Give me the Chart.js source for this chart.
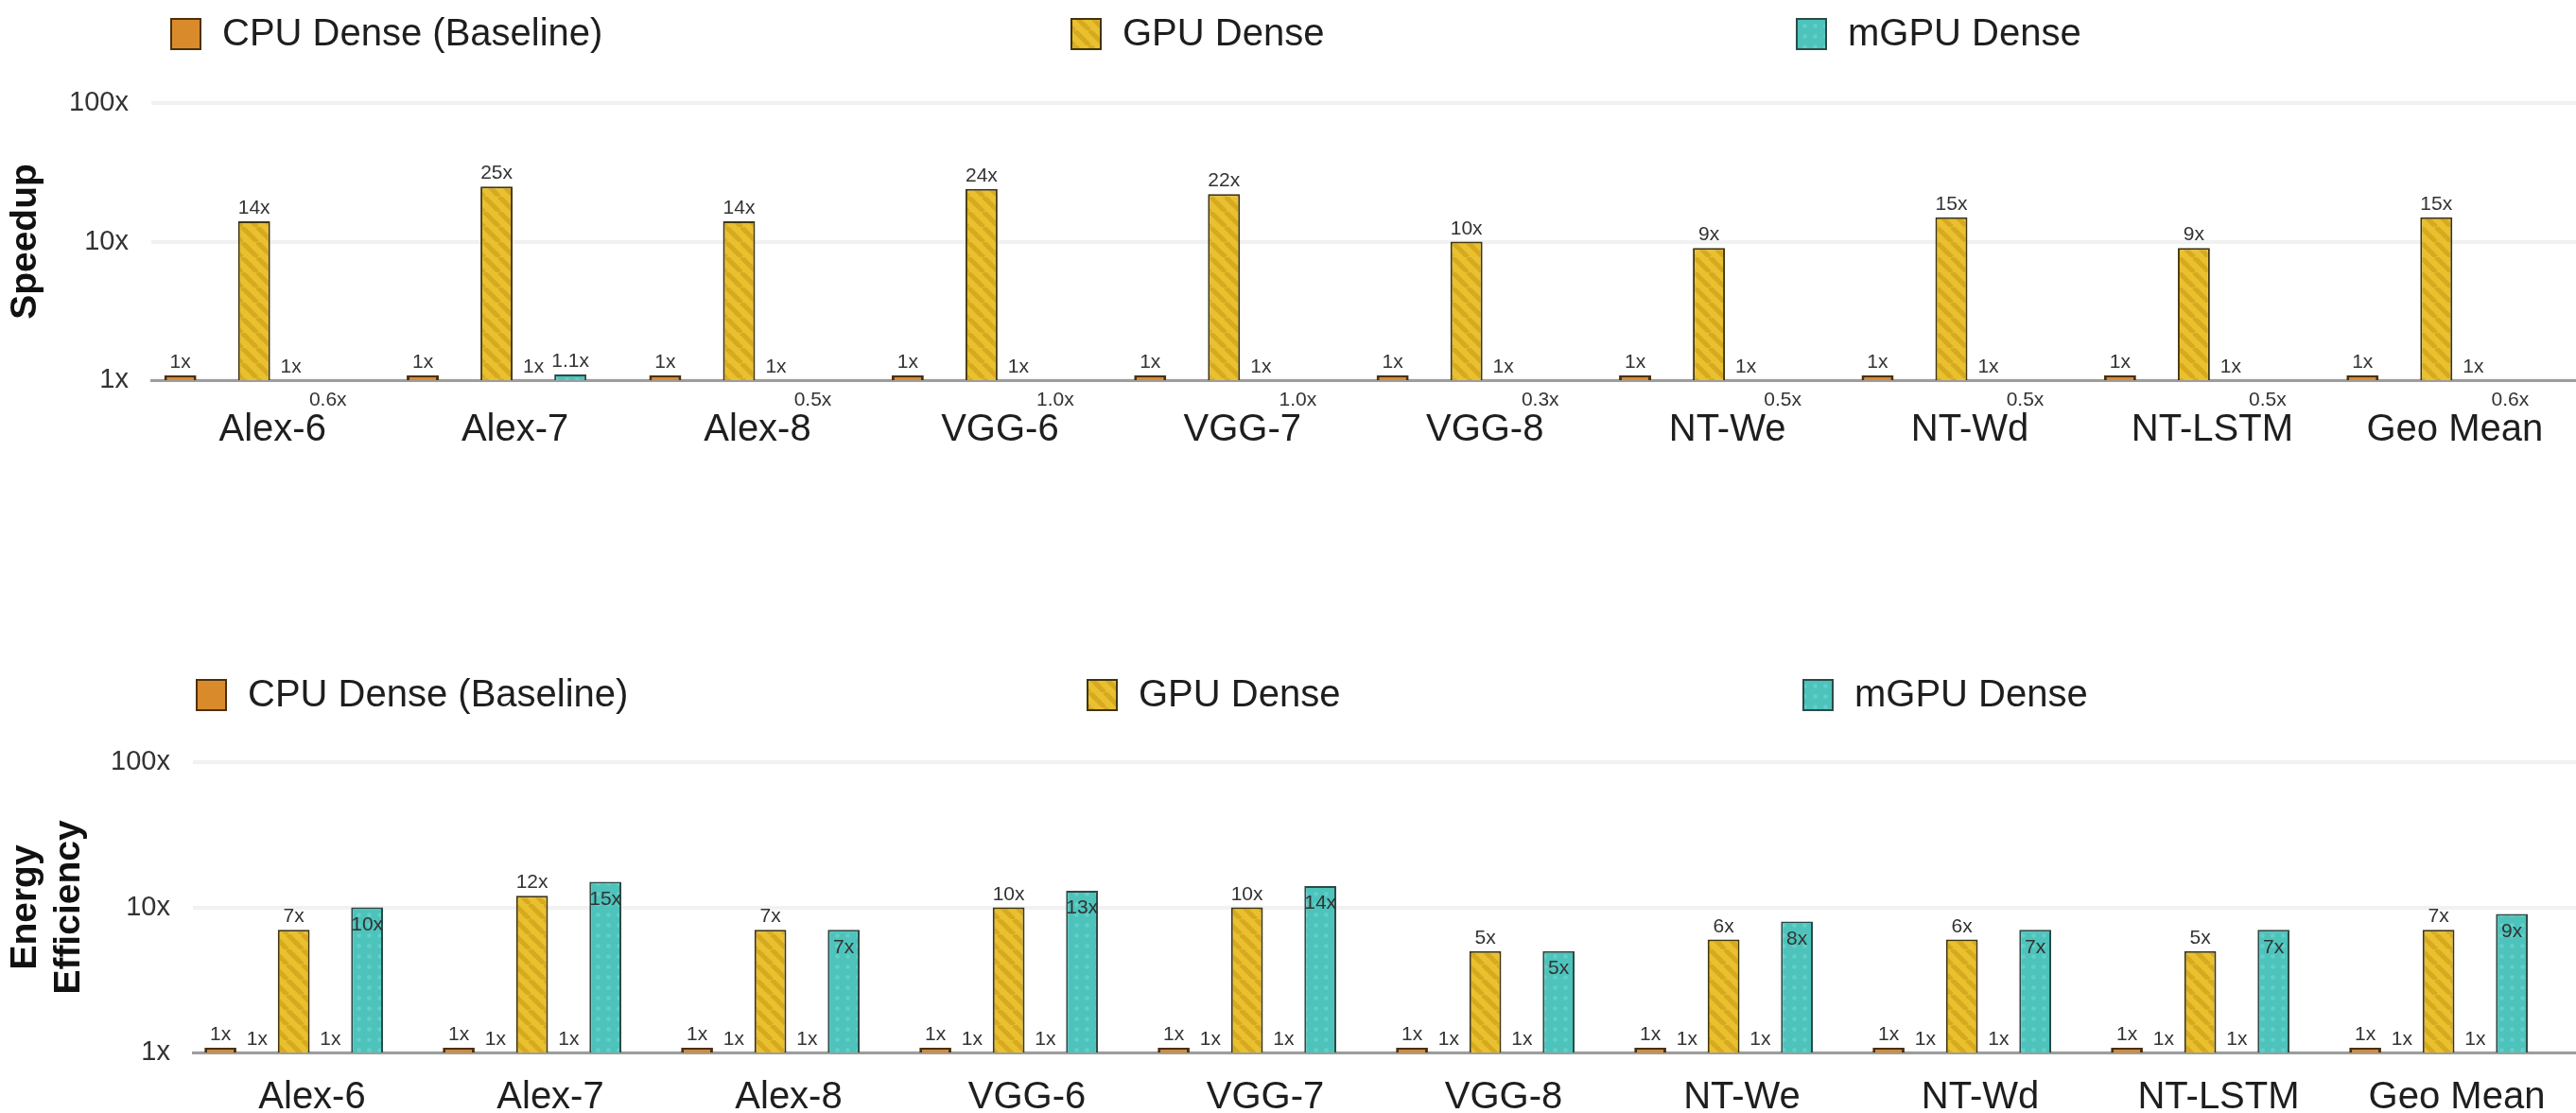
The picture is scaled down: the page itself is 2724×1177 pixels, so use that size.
<!DOCTYPE html>
<html>
<head>
<meta charset="utf-8">
<title>Speedup and Energy Efficiency</title>
<script src="https://cdn.jsdelivr.net/npm/chart.js@4.4.1/dist/chart.umd.min.js"></script>
<style>
  html, body { margin: 0; padding: 0; background: #ffffff; overflow: hidden; }
  canvas { display: block; }
</style>
</head>
<body>
<canvas id="speedup" width="2724" height="588"></canvas>
<canvas id="energy" width="2724" height="589"></canvas>
<script>
// ---- data ----
const categories = ['Alex-6', 'Alex-7', 'Alex-8', 'VGG-6', 'VGG-7', 'VGG-8', 'NT-We', 'NT-Wd', 'NT-LSTM', 'Geo Mean'];
const seriesNames = ['CPU Dense (Baseline)', 'GPU Dense', 'mGPU Dense'];
const yTickValues = [1, 10, 100];

// speedup over the CPU baseline
const speedupCPU   = [1, 1, 1, 1, 1, 1, 1, 1, 1, 1];
const speedupGPU   = [14, 25, 14, 24, 22, 10, 9, 15, 9, 15];
const speedupUnit  = [1, 1, 1, 1, 1, 1, 1, 1, 1, 1];
const speedupMGPU  = [0.6, 1.1, 0.5, 1.0, 1.0, 0.3, 0.5, 0.5, 0.5, 0.6];

// energy efficiency over the CPU baseline
const energyCPU    = [1, 1, 1, 1, 1, 1, 1, 1, 1, 1];
const energyUnitA  = [1, 1, 1, 1, 1, 1, 1, 1, 1, 1];
const energyGPU    = [7, 12, 7, 10, 10, 5, 6, 6, 5, 7];
const energyUnitB  = [1, 1, 1, 1, 1, 1, 1, 1, 1, 1];
const energyMGPU   = [10, 15, 7, 13, 14, 5, 8, 7, 7, 9];

const emptyRow = [null, null, null, null, null, null, null, null, null, null];

// ---- fills ----
const FONT = '"Liberation Sans", Arial, Helvetica, sans-serif';

function stripeFill() {
  const n = 16;
  const c = document.createElement('canvas');
  c.width = c.height = n;
  const g = c.getContext('2d');
  g.fillStyle = '#e9c02e';
  g.fillRect(0, 0, n, n);
  g.strokeStyle = '#d7a920';
  g.lineWidth = 5;
  for (const o of [-n, 0, n]) {
    g.beginPath();
    g.moveTo(o, 0);
    g.lineTo(o + n, n);
    g.stroke();
  }
  return g.createPattern(c, 'repeat');
}

function dotFill() {
  const c = document.createElement('canvas');
  c.width = c.height = 11;
  const g = c.getContext('2d');
  g.fillStyle = '#4dc3bb';
  g.fillRect(0, 0, 11, 11);
  g.fillStyle = '#62d0c8';
  g.beginPath();
  g.arc(5.5, 5.5, 2.3, 0, Math.PI * 2);
  g.fill();
  return g.createPattern(c, 'repeat');
}

const cpuStyle  = { backgroundColor: '#d98b2c', borderColor: '#4d300d', borderWidth: 3, minBarLength: 5 };
const gpuStyle  = { backgroundColor: stripeFill(), borderColor: '#3f3510', borderWidth: 2 };
const mgpuStyle = { backgroundColor: dotFill(), borderColor: '#2c4a47', borderWidth: 2 };
const blankStyle = { backgroundColor: 'rgba(0,0,0,0)', borderColor: 'rgba(0,0,0,0)', borderWidth: 0 };

const whole = v => v + 'x';
const oneDecimal = v => v.toFixed(1) + 'x';

// ---- plugins ----
// value labels above / inside / under the bars
const barLabels = {
  id: 'barLabels',
  afterDatasetsDraw(chart) {
    const { ctx, chartArea } = chart;
    ctx.save();
    ctx.font = '21px ' + FONT;
    ctx.fillStyle = '#333333';
    ctx.textAlign = 'center';
    chart.data.datasets.forEach((ds, i) => {
      if (!ds.valueText) return;
      const meta = chart.getDatasetMeta(i);
      meta.data.forEach((bar, j) => {
        const v = ds.data[j];
        if (v == null) return;
        const text = ds.valueText(v);
        let place = ds.labelPlace;
        if (place === 'auto') place = v > 1 ? 'above' : 'below';
        if (place === 'above') {
          ctx.textBaseline = 'alphabetic';
          ctx.fillText(text, bar.x, Math.min(bar.y, bar.base) - 8);
        } else if (place === 'inside') {
          ctx.textBaseline = 'top';
          ctx.fillText(text, bar.x, bar.y + 8);
        } else {
          ctx.textBaseline = 'middle';
          ctx.fillText(text, bar.x, chartArea.bottom + 21);
        }
      });
    });
    ctx.restore();
  }
};

// legend row with swatches
const swatchLegend = {
  id: 'swatchLegend',
  afterDraw(chart, args, opts) {
    const ctx = chart.ctx;
    ctx.save();
    ctx.font = '40px ' + FONT;
    ctx.textBaseline = 'middle';
    ctx.textAlign = 'left';
    opts.items.forEach(it => {
      const ds = chart.data.datasets[it.dataset];
      ctx.fillStyle = ds.backgroundColor;
      ctx.fillRect(it.x, opts.y - 16, 31, 32);
      ctx.strokeStyle = ds.borderColor;
      ctx.lineWidth = 2;
      ctx.strokeRect(it.x, opts.y - 16, 31, 32);
      ctx.fillStyle = '#1e1e1e';
      ctx.fillText(ds.label, it.x + 54, opts.y + 1);
    });
    ctx.restore();
  }
};

function buildOptions(cfg) {
  return {
    responsive: false,
    animation: false,
    layout: { padding: { top: cfg.padTop, bottom: cfg.padBottom, left: 0, right: 0 } },
    datasets: { bar: { categoryPercentage: cfg.catPct, barPercentage: 0.87, clip: 0 } },
    plugins: {
      legend: { display: false },
      tooltip: { enabled: false },
      swatchLegend: { items: cfg.legend, y: cfg.legendY }
    },
    scales: {
      x: {
        type: 'category',
        offset: true,
        grid: { display: false },
        border: { display: true, color: '#9d9d9d', width: 3 },
        ticks: { color: '#1e1e1e', font: { family: FONT, size: 40 }, padding: cfg.xPad, maxRotation: 0, autoSkip: false },
        afterFit: s => { s.height = cfg.xHeight; }
      },
      y: {
        type: 'logarithmic',
        min: 1,
        max: 100,
        afterBuildTicks: s => { s.ticks = yTickValues.map(v => ({ value: v })); },
        ticks: { color: '#333333', font: { family: FONT, size: 29 }, padding: 24, callback: v => v + 'x' },
        grid: { color: '#f1f1f1', lineWidth: 4, drawTicks: false },
        border: { display: false },
        title: {
          display: true,
          text: cfg.yTitle,
          color: '#111111',
          font: { family: FONT, size: 39, weight: 'bold', lineHeight: 1.18 },
          padding: { top: 4, bottom: 0 }
        },
        afterFit: s => { s.width = cfg.yWidth; }
      }
    }
  };
}

// ---- speedup chart ----
new Chart(document.getElementById('speedup'), {
  type: 'bar',
  data: {
    labels: categories,
    datasets: [
      Object.assign({ label: seriesNames[0], data: speedupCPU, valueText: whole, labelPlace: 'above' }, cpuStyle),
      Object.assign({ label: '', data: emptyRow }, blankStyle),
      Object.assign({ label: seriesNames[1], data: speedupGPU, valueText: whole, labelPlace: 'above' }, gpuStyle),
      Object.assign({ label: '', data: speedupUnit, valueText: whole, labelPlace: 'above' }, blankStyle),
      Object.assign({ label: seriesNames[2], data: speedupMGPU, valueText: oneDecimal, labelPlace: 'auto' }, mgpuStyle),
      Object.assign({ label: '', data: emptyRow }, blankStyle)
    ]
  },
  options: buildOptions({
    padTop: 109, padBottom: 116, xHeight: 70, xPad: 21, yWidth: 160, catPct: 0.913,
    yTitle: 'Speedup',
    legendY: 36,
    legend: [{ dataset: 0, x: 181 }, { dataset: 2, x: 1133 }, { dataset: 4, x: 1900 }]
  }),
  plugins: [barLabels, swatchLegend]
});

// ---- energy efficiency chart ----
new Chart(document.getElementById('energy'), {
  type: 'bar',
  data: {
    labels: categories,
    datasets: [
      Object.assign({ label: seriesNames[0], data: energyCPU, valueText: whole, labelPlace: 'above' }, cpuStyle),
      Object.assign({ label: '', data: energyUnitA, valueText: whole, labelPlace: 'above' }, blankStyle),
      Object.assign({ label: seriesNames[1], data: energyGPU, valueText: whole, labelPlace: 'above' }, gpuStyle),
      Object.assign({ label: '', data: energyUnitB, valueText: whole, labelPlace: 'above' }, blankStyle),
      Object.assign({ label: seriesNames[2], data: energyMGPU, valueText: whole, labelPlace: 'inside' }, mgpuStyle),
      Object.assign({ label: '', data: emptyRow }, blankStyle)
    ]
  },
  options: buildOptions({
    padTop: 218, padBottom: 4, xHeight: 60, xPad: 16, yWidth: 204, catPct: 0.923,
    yTitle: ['Energy', 'Efficiency'],
    legendY: 147,
    legend: [{ dataset: 0, x: 208 }, { dataset: 2, x: 1150 }, { dataset: 4, x: 1907 }]
  }),
  plugins: [barLabels, swatchLegend]
});
</script>
</body>
</html>
